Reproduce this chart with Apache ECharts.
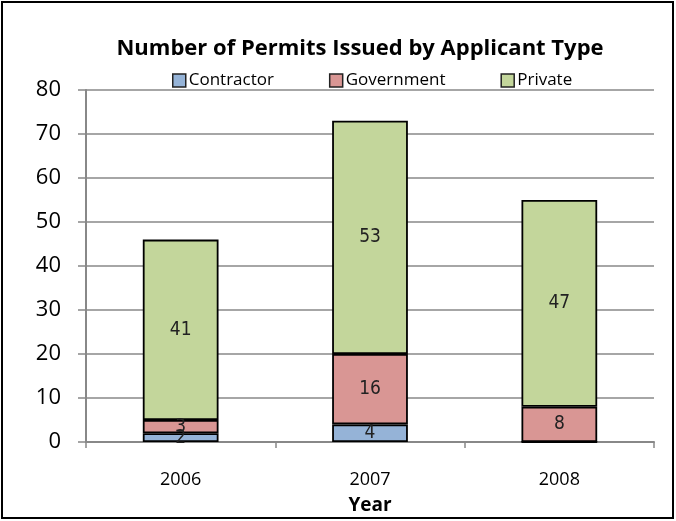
<!DOCTYPE html>
<html><head><meta charset="utf-8">
<script src="https://cdn.jsdelivr.net/npm/echarts@6/dist/echarts.min.js"></script>
<style>html,body{margin:0;padding:0;background:#fff}#c{width:676px;height:521px}</style>
</head><body><div id="c"></div>
<script>
var categories = ['2006', '2007', '2008'];
var contractor = [2, 4, 0];
var government = [3, 16, 8];
var privateVals = [41, 53, 47];
var yTicks = [0, 10, 20, 30, 40, 50, 60, 70, 80];

var COND = '"DejaVu Sans Condensed", "DejaVu Sans", sans-serif';
var chart = echarts.init(document.getElementById('c'));
var lbl = {
  show: true, position: 'inside', color: '#222',
  fontFamily: COND, fontSize: 19,
  formatter: function (p) { return p.value ? p.value : ''; }
};
function mk(name, data, color) {
  return {
    name: name, type: 'bar', stack: 'a', data: data, barWidth: '40%',
    itemStyle: { color: color, borderColor: '#000', borderWidth: 1.8 },
    label: lbl
  };
}
chart.setOption({
  animation: false,
  title: {
    text: 'Number of Permits Issued by Applicant Type',
    left: 355, top: 33, textAlign: 'center',
    textStyle: { fontFamily: 'Open Sans', fontWeight: 'bold', fontSize: 22, color: '#000' }
  },
  legend: {
    left: 172, top: 72, padding: 0, itemWidth: 13, itemHeight: 13, itemGap: 55,
    icon: 'rect',
    itemStyle: { borderColor: '#222', borderWidth: 1.5 },
    textStyle: { fontFamily: 'Open Sans', fontSize: 17, color: '#000', padding: [0, 0, 0, -2] },
    data: ['Contractor', 'Government', 'Private']
  },
  graphic: [{
    type: 'rect', shape: { x: 2, y: 2, width: 671, height: 516 },
    style: { fill: 'none', stroke: '#000', lineWidth: 2 }, silent: true
  }],
  grid: { left: 86, right: 22, top: 90, bottom: 79, containLabel: false, outerBoundsMode: 'none' },
  xAxis: {
    type: 'category', data: categories,
    name: 'Year', nameLocation: 'middle', nameGap: 54,
    nameTextStyle: { fontFamily: 'Open Sans', fontWeight: 'bold', fontSize: 19, color: '#000' },
    axisLine: { lineStyle: { color: '#888', width: 2 } },
    axisTick: { show: true, length: 6, lineStyle: { color: '#888', width: 1.5 } },
    axisLabel: { fontFamily: 'Open Sans', fontSize: 18, color: '#000', margin: 29 }
  },
  yAxis: {
    type: 'value', min: 0, max: 80, interval: 10,
    axisLine: { show: true, lineStyle: { color: '#888', width: 2 } },
    axisTick: { show: true, length: 8, lineStyle: { color: '#888', width: 1.5 } },
    axisLabel: {
      fontFamily: 'Open Sans', fontSize: 22, color: '#000', margin: 25,
      formatter: function (v) { return yTicks.indexOf(v) >= 0 ? String(v) : ''; }
    },
    splitLine: { lineStyle: { color: '#888', width: 1.5 } }
  },
  series: [
    mk('Contractor', contractor, '#95B3D7'),
    mk('Government', government, '#D99694'),
    mk('Private', privateVals, '#C3D69B')
  ]
});
</script></body></html>
